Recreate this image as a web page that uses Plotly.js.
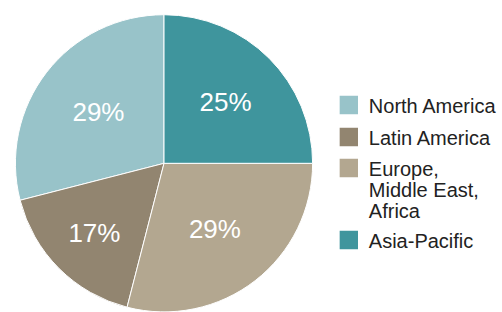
<!DOCTYPE html>
<html><head><meta charset="utf-8">
<script src="https://cdn.plot.ly/plotly-3.0.1.min.js"></script>
<style>html,body{margin:0;padding:0;background:#fff;overflow:hidden}</style>
</head><body>
<div id="chart" style="width:502px;height:316px"></div>
<script>
const regions = ["North America", "Latin America", "Europe,<br>Middle East,<br>Africa", "Asia-Pacific"];
const shares = [29, 17, 29, 25];
const colors = ["#98c3c9", "#928570", "#b3a790", "#3f959d"];
const total = shares.reduce((a, b) => a + b, 0);

Plotly.newPlot("chart", [{
  type: "pie",
  labels: regions,
  values: shares,
  sort: false,
  direction: "counterclockwise",
  rotation: -360 * shares[0] / total,
  marker: {colors: colors, line: {color: "#ffffff", width: 1}},
  texttemplate: "%{value}%",
  textposition: "inside",
  insidetextorientation: "horizontal",
  textfont: {family: "Liberation Sans, Arial, sans-serif", size: 26, color: "#ffffff"},
  hoverinfo: "none",
  domain: {x: [0.0313, 0.6341], y: [0.0044, 0.962]}
}], {
  width: 502, height: 316,
  margin: {l: 0, r: 0, t: 0, b: 0},
  paper_bgcolor: "#ffffff",
  showlegend: true,
  legend: {
    x: 0.667, xanchor: "left", y: 0.5, yanchor: "middle",
    valign: "top",
    font: {family: "Liberation Sans, Arial, sans-serif", size: 20, color: "#222222"},
    traceorder: "normal",
    tracegroupgap: 0
  }
}, {staticPlot: true}).then(function (gd) {
  // larger legend swatches
  gd.querySelectorAll(".legendpoints path").forEach(function (p) {
    const t = p.getAttribute("transform") || "";
    p.setAttribute("transform", t + " scale(1.667)");
  });
  // tighter line spacing in multi-line legend labels
  gd.querySelectorAll(".legend .legendtext tspan.line").forEach(function (s) {
    const dy = s.getAttribute("dy");
    if (dy) {
      const v = parseFloat(dy);
      if (v) s.setAttribute("dy", (v * 1.05 / 1.3) + "em");
    }
  });
  gd.querySelectorAll(".legend [clip-path]").forEach(function (el) {
    el.removeAttribute("clip-path");
  });
  // legend row positions (first-line centres)
  const rowY = [105, 137, 168, 240];
  gd.querySelectorAll(".legend .traces").forEach(function (g, i) {
    const sym = g.querySelector(".legendpoints path");
    const r = sym.getBoundingClientRect();
    const cy = r.top + r.height / 2;
    const m = /translate\(([^,]+),\s*([^)]+)\)/.exec(g.getAttribute("transform") || "translate(0,0)");
    const x = parseFloat(m[1]), y = parseFloat(m[2]);
    g.setAttribute("transform", "translate(" + x + "," + (y + rowY[i] - cy) + ")");
  });
});
</script>
</body></html>
